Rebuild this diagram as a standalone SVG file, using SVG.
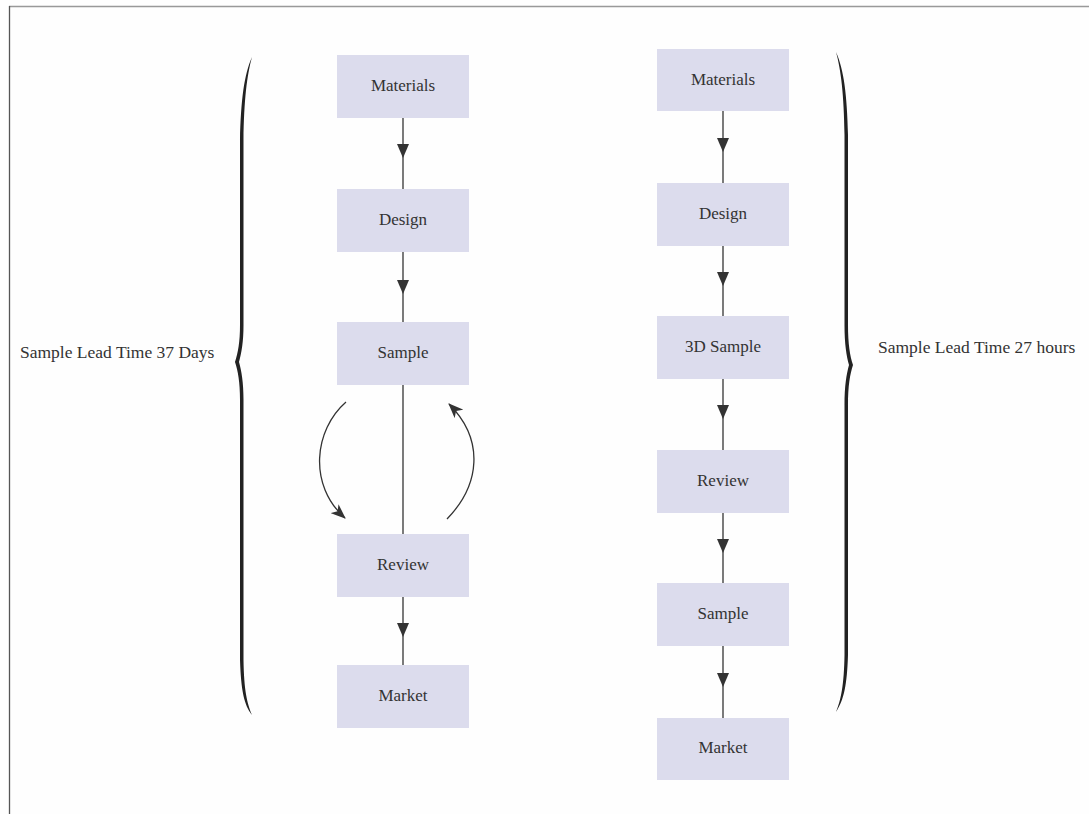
<svg xmlns="http://www.w3.org/2000/svg" width="1089" height="814" viewBox="0 0 1089 814">
<style>
.node{fill:#dcdced;}
.t{font-family:"Liberation Serif","Times New Roman",serif;font-size:17px;fill:#333;text-anchor:middle;}
.lbl{font-family:"Liberation Serif","Times New Roman",serif;font-size:17.5px;fill:#333;}
.ln{stroke:#333;stroke-width:1.3;fill:none;}
.ah{fill:#333;}
.brace{fill:#222;}
</style>
<defs>
<marker id="barb" viewBox="0 0 15 12" refX="14" refY="6" markerWidth="15" markerHeight="12" markerUnits="userSpaceOnUse" orient="auto">
<path d="M0,0 L15,6 L0,12 L4,6 Z" fill="#333"/>
</marker>
</defs>
<rect width="1089" height="814" fill="#fefefe"/>
<line x1="9" y1="6.5" x2="1089" y2="6.5" stroke="#999" stroke-width="1.5"/>
<line x1="9.5" y1="6" x2="9.5" y2="814" stroke="#555" stroke-width="1.3"/>

<g id="connectors">
<line class="ln" x1="403" y1="118" x2="403" y2="189"/>
<path class="ah" d="M397,144 L409,144 L403,158 Z"/>
<line class="ln" x1="403" y1="252" x2="403" y2="322"/>
<path class="ah" d="M397,280 L409,280 L403,294 Z"/>
<line class="ln" x1="403" y1="385" x2="403" y2="534"/>
<line class="ln" x1="403" y1="597" x2="403" y2="665"/>
<path class="ah" d="M397,623 L409,623 L403,637 Z"/>
<path class="ln" d="M346,402 C314,430 308,485 345,518" marker-end="url(#barb)"/>
<path class="ln" d="M447,519 C480,485 485,440 449,404" marker-end="url(#barb)"/>

<line class="ln" x1="723" y1="111" x2="723" y2="183"/>
<path class="ah" d="M717,138 L729,138 L723,152 Z"/>
<line class="ln" x1="723" y1="246" x2="723" y2="316"/>
<path class="ah" d="M717,272 L729,272 L723,286 Z"/>
<line class="ln" x1="723" y1="379" x2="723" y2="450"/>
<path class="ah" d="M717,405 L729,405 L723,419 Z"/>
<line class="ln" x1="723" y1="513" x2="723" y2="583"/>
<path class="ah" d="M717,539 L729,539 L723,553 Z"/>
<line class="ln" x1="723" y1="646" x2="723" y2="718"/>
<path class="ah" d="M717,673 L729,673 L723,687 Z"/>
</g>

<g id="left-materials"><rect class="node" x="337" y="55" width="132" height="63"/><text class="t" x="403" y="91">Materials</text></g>
<g id="left-design"><rect class="node" x="337" y="189" width="132" height="63"/><text class="t" x="403" y="225">Design</text></g>
<g id="left-sample"><rect class="node" x="337" y="322" width="132" height="63"/><text class="t" x="403" y="358">Sample</text></g>
<g id="left-review"><rect class="node" x="337" y="534" width="132" height="63"/><text class="t" x="403" y="570">Review</text></g>
<g id="left-market"><rect class="node" x="337" y="665" width="132" height="63"/><text class="t" x="403" y="701">Market</text></g>

<g id="right-materials"><rect class="node" x="657" y="49" width="132" height="62"/><text class="t" x="723" y="85">Materials</text></g>
<g id="right-design"><rect class="node" x="657" y="183" width="132" height="63"/><text class="t" x="723" y="219">Design</text></g>
<g id="right-3dsample"><rect class="node" x="657" y="316" width="132" height="63"/><text class="t" x="723" y="352">3D Sample</text></g>
<g id="right-review"><rect class="node" x="657" y="450" width="132" height="63"/><text class="t" x="723" y="486">Review</text></g>
<g id="right-sample"><rect class="node" x="657" y="583" width="132" height="63"/><text class="t" x="723" y="619">Sample</text></g>
<g id="right-market"><rect class="node" x="657" y="718" width="132" height="62"/><text class="t" x="723" y="753">Market</text></g>

<g id="left-brace">
<path class="brace" d="M252,57 C244,75 241,100 240,140 L240,325 C240,342 238,353 235,362 C238,371 240,382 240,400 L240,660 C241,690 244,705 252,715 C247,703 244,690 243.5,660 L243.5,400 C243.5,382 241.5,371 239,362 C241.5,353 243.5,342 243.5,325 L243.5,140 C244,100 247,75 252,57 Z"/>
</g>
<g id="right-brace">
<path class="brace" d="M836,52 C844,70 847,95 848,135 L848,325 C848,344 850,356 853,365 C850,374 848,386 848,405 L848,655 C847,685 844,700 836,712 C841,700 844,685 844.5,655 L844.5,405 C844.5,386 846.5,374 849,365 C846.5,356 844.5,344 844.5,325 L844.5,135 C844,95 841,70 836,52 Z"/>
</g>

<g id="left-label"><text class="lbl" x="20" y="358">Sample Lead Time 37 Days</text></g>
<g id="right-label"><text class="lbl" x="878" y="353">Sample Lead Time 27 hours</text></g>
</svg>
